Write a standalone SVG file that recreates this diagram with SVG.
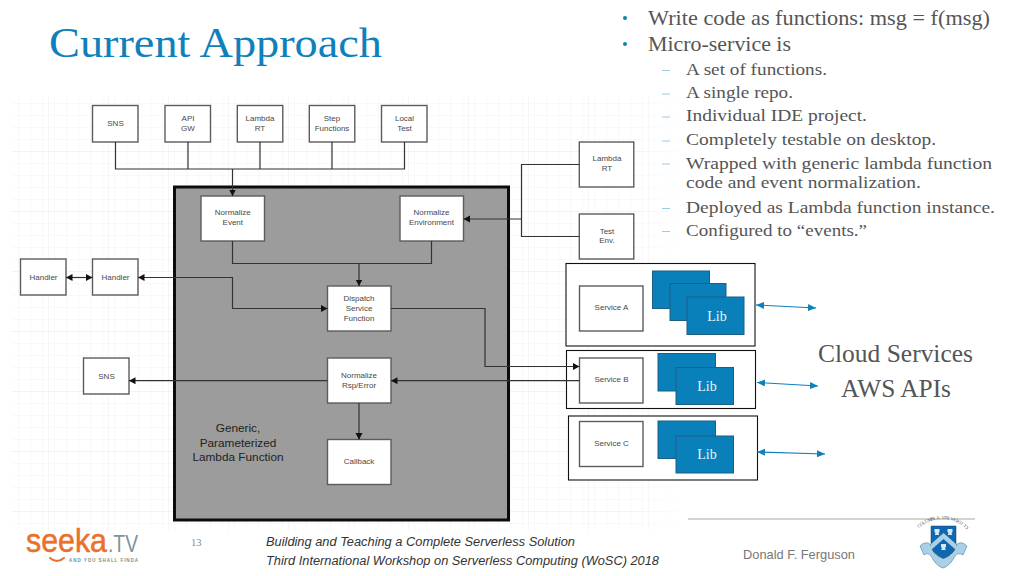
<svg xmlns="http://www.w3.org/2000/svg" width="1024" height="576" viewBox="0 0 1024 576">
<defs>
<pattern id="minor" width="12" height="12" patternUnits="userSpaceOnUse" x="6" y="91"><path d="M12 0H0V12" fill="none" stroke="#f1f1f1" stroke-width="0.8"/></pattern>
<pattern id="major" width="60" height="60" patternUnits="userSpaceOnUse" x="48" y="91"><path d="M60 0H0V60" fill="none" stroke="#ebebeb" stroke-width="0.9"/></pattern>
<linearGradient id="fade" x1="0" x2="1" y1="0" y2="0"><stop offset="0" stop-color="#fff" stop-opacity="0"/><stop offset="1" stop-color="#fff"/></linearGradient>
<marker id="ah" markerUnits="userSpaceOnUse" markerWidth="8" markerHeight="8" refX="6.500" refY="3.500" orient="auto-start-reverse"><path d="M0 0L6.500 3.500L0 7Z" fill="#111"/></marker>
<marker id="bh" markerUnits="userSpaceOnUse" markerWidth="9" markerHeight="8" refX="8" refY="3.500" orient="auto-start-reverse"><path d="M0 0L8 3.500L0 7Z" fill="#0f80bb"/></marker>
</defs>
<style>
.sans{font-family:"Liberation Sans",Arial,sans-serif}
.serif{font-family:"Liberation Serif","Times New Roman",serif}
.box{fill:#fff;stroke:#5c5c5c;stroke-width:1.4}
.lab{font-family:"Liberation Sans",Arial,sans-serif;font-size:8px;fill:#484848;text-anchor:middle}
.wire{fill:none;stroke:#333;stroke-width:1.2}
.arrow{marker-end:url(#ah)}
.both{marker-start:url(#ah);marker-end:url(#ah)}
.blue{fill:none;stroke:#0f80bb;stroke-width:1.1;marker-start:url(#bh);marker-end:url(#bh)}
.outer{fill:#fff;stroke:#111;stroke-width:1.1}
.lib{fill:#0a80bb;stroke:#1d5f82;stroke-width:1}
.libt{font-family:"Liberation Serif","Times New Roman",serif;font-size:14px;fill:#e8f4fa;text-anchor:middle}
.b1{font-family:"Liberation Serif","Times New Roman",serif;font-size:21px;fill:#555}
.b2{font-family:"Liberation Serif","Times New Roman",serif;font-size:17.500px;fill:#555}
.dash{stroke:#9ccbe4;stroke-width:1.2}
.foot{font-family:"Liberation Sans",Arial,sans-serif;font-style:italic;font-size:12.500px;fill:#333}
.gen{font-family:"Liberation Sans",Arial,sans-serif;font-size:11.800px;fill:#222;text-anchor:middle}
.cl{font-family:"Liberation Serif","Times New Roman",serif;font-size:24.500px;fill:#555}
</style>
<rect width="1024" height="576" fill="#fff"/>
<g id="grid">
<rect x="12" y="96" width="678" height="434" fill="url(#minor)"/>
<rect x="12" y="96" width="678" height="434" fill="url(#major)"/>
<rect x="630" y="95" width="61" height="436" fill="url(#fade)"/>
</g>
<text id="title" class="serif" x="49" y="57" font-size="43" fill="#0f80bb" textLength="333" lengthAdjust="spacingAndGlyphs">Current Approach</text>
<g id="bullets">
<circle cx="625" cy="18" r="2" fill="#0f80bb"/><circle cx="625" cy="44" r="2" fill="#0f80bb"/>
<text class="b1" x="648" y="25" textLength="342" lengthAdjust="spacingAndGlyphs">Write code as functions: msg = f(msg)</text>
<text class="b1" x="648" y="51" textLength="143" lengthAdjust="spacingAndGlyphs">Micro-service is</text>
<path class="dash" d="M662 70.500h8M662 94h8M662 117h8M662 141h8M662 164h8M662 208.500h8M662 231.500h8"/>
<text class="b2" x="686" y="75" textLength="141" lengthAdjust="spacingAndGlyphs">A set of functions.</text>
<text class="b2" x="686" y="98" textLength="107" lengthAdjust="spacingAndGlyphs">A single repo.</text>
<text class="b2" x="686" y="121" textLength="181" lengthAdjust="spacingAndGlyphs">Individual IDE project.</text>
<text class="b2" x="686" y="145" textLength="250" lengthAdjust="spacingAndGlyphs">Completely testable on desktop.</text>
<text class="b2" x="686" y="169" textLength="306" lengthAdjust="spacingAndGlyphs">Wrapped with generic lambda function</text>
<text class="b2" x="686" y="188" textLength="235" lengthAdjust="spacingAndGlyphs">code and event normalization.</text>
<text class="b2" x="686" y="213" textLength="309" lengthAdjust="spacingAndGlyphs">Deployed as Lambda function instance.</text>
<text class="b2" x="686" y="236" textLength="181" lengthAdjust="spacingAndGlyphs">Configured to “events.”</text>
</g>
<g id="lambda-function">
<rect x="174.500" y="187" width="334" height="333" fill="#9c9c9c" stroke="#0c0c0c" stroke-width="3"/>
<text class="gen" x="238" y="432">Generic,</text>
<text class="gen" x="238" y="446.500">Parameterized</text>
<text class="gen" x="238" y="461">Lambda Function</text>
</g>
<g id="src-sns"><rect class="box" x="92.500" y="105.500" width="45.500" height="36.500"/><text class="lab" x="115.500" y="126">SNS</text></g>
<g id="src-apigw"><rect class="box" x="165" y="105.500" width="45.500" height="36.500"/><text class="lab" x="188" y="121">API</text><text class="lab" x="188" y="131">GW</text></g>
<g id="src-lambda"><rect class="box" x="237.300" y="105.500" width="45.500" height="36.500"/><text class="lab" x="260" y="121">Lambda</text><text class="lab" x="260" y="131">RT</text></g>
<g id="src-step"><rect class="box" x="309.300" y="105.500" width="45.500" height="36.500"/><text class="lab" x="332" y="121">Step</text><text class="lab" x="332" y="131">Functions</text></g>
<g id="src-local"><rect class="box" x="381.500" y="105.500" width="45.500" height="36.500"/><text class="lab" x="404.500" y="121">Local</text><text class="lab" x="404.500" y="131">Test</text></g>
<g id="norm-event"><rect class="box" x="201" y="196" width="63.500" height="45"/><text class="lab" x="232.800" y="215.300">Normalize</text><text class="lab" x="232.800" y="225">Event</text></g>
<g id="norm-env"><rect class="box" x="400" y="196" width="63.500" height="45"/><text class="lab" x="431.500" y="215.300">Normalize</text><text class="lab" x="431.500" y="225">Environment</text></g>
<g id="dispatch"><rect class="box" x="327.500" y="286" width="63.500" height="45"/><text class="lab" x="359" y="300.700">Dispatch</text><text class="lab" x="359" y="310.600">Service</text><text class="lab" x="359" y="320.500">Function</text></g>
<g id="norm-rsp"><rect class="box" x="327.500" y="358" width="63.500" height="45"/><text class="lab" x="359" y="377.500">Normalize</text><text class="lab" x="359" y="387.500">Rsp/Error</text></g>
<g id="callback"><rect class="box" x="327.500" y="439.500" width="63.500" height="45"/><text class="lab" x="359" y="464">Callback</text></g>
<g id="handler-1"><rect class="box" x="20.500" y="259" width="45.500" height="36"/><text class="lab" x="43.500" y="279.500">Handler</text></g>
<g id="handler-2"><rect class="box" x="92.500" y="259" width="45.500" height="36"/><text class="lab" x="115.500" y="279.500">Handler</text></g>
<g id="sns-out"><rect class="box" x="83.500" y="358" width="45.500" height="36"/><text class="lab" x="106.500" y="378.500">SNS</text></g>
<g id="lambda-rt"><rect class="box" x="579.300" y="142" width="54.500" height="45"/><text class="lab" x="607" y="161">Lambda</text><text class="lab" x="607" y="171">RT</text></g>
<g id="test-env"><rect class="box" x="579.300" y="214" width="54.500" height="45"/><text class="lab" x="607" y="233.500">Test</text><text class="lab" x="607" y="243">Env.</text></g>
<g id="service-a">
<rect class="outer" x="566" y="263.500" width="189" height="82.500"/>
<rect class="box" x="579.500" y="286" width="63.500" height="45"/><text class="lab" x="611.500" y="310">Service A</text>
<rect class="lib" x="652.500" y="271" width="57" height="37.500"/>
<rect class="lib" x="670" y="283.500" width="56" height="37"/><text class="libt" x="698" y="307">Lib</text>
<rect class="lib" x="687" y="297" width="57" height="37.500"/><text class="libt" x="717" y="321">Lib</text>
</g>
<g id="service-b">
<rect class="outer" x="566.500" y="350.500" width="189" height="58"/>
<rect class="box" x="579.500" y="358" width="63.500" height="45"/><text class="lab" x="611.500" y="382">Service B</text>
<rect class="lib" x="658" y="353.500" width="57.500" height="37.500"/><text class="libt" x="687" y="377">Lib</text>
<rect class="lib" x="676" y="367.500" width="57.500" height="37"/><text class="libt" x="707" y="391">Lib</text>
</g>
<g id="service-c">
<rect class="outer" x="568.500" y="416" width="189" height="64"/>
<rect class="box" x="579.500" y="421.500" width="63.500" height="45"/><text class="lab" x="611.500" y="445.500">Service C</text>
<rect class="lib" x="658" y="421" width="57.500" height="37.500"/><text class="libt" x="687" y="446">Lib</text>
<rect class="lib" x="676" y="436" width="57.500" height="37"/><text class="libt" x="707" y="459">Lib</text>
</g>
<g id="connectors">
<path class="wire" d="M115.500 142V169H404.500V142M188 142V169M260 142V169M332 142V169"/>
<path class="wire arrow" d="M232.500 169V196"/>
<path class="wire" d="M232.500 241V263.500H431.500V241"/>
<path class="wire arrow" d="M359 263.500V286"/>
<path class="wire both" d="M66 277.500H92.500"/>
<path class="wire both" d="M138 277.500H232.500V308.500H327.500"/>
<path class="wire arrow" d="M391 308.500H485V366.500H579.500"/>
<path class="wire arrow" d="M579.500 380.700H391"/>
<path class="wire arrow" d="M327.500 380.700H129"/>
<path class="wire arrow" d="M359 403V439.500"/>
<path class="wire" d="M579.300 164.500H521.500V236.500H579.300"/>
<path class="wire arrow" d="M521.500 219H463.500"/>
<path class="blue" d="M756 305L816 308"/>
<path class="blue" d="M757 382.500L818 386"/>
<path class="blue" d="M757 452L825 454"/>
</g>
<g id="cloud-label">
<text class="cl" x="818" y="362" textLength="155" lengthAdjust="spacingAndGlyphs">Cloud Services</text>
<text class="cl" x="841" y="397" textLength="110" lengthAdjust="spacingAndGlyphs">AWS APIs</text>
</g>
<g id="footer">
<path d="M688 519H975" stroke="#a6a6a6" stroke-width="1"/>
<text class="serif" x="191" y="546" font-size="10.500" fill="#888">13</text>
<text class="foot" x="266" y="546" textLength="309" lengthAdjust="spacingAndGlyphs">Building and Teaching a Complete Serverless Solution</text>
<text class="foot" x="266" y="565" textLength="393" lengthAdjust="spacingAndGlyphs">Third International Workshop on Serverless Computing (WoSC) 2018</text>
<text class="sans" x="743" y="559" font-size="13" fill="#777" textLength="112" lengthAdjust="spacingAndGlyphs">Donald F. Ferguson</text>
</g>
<g id="seeka-logo">
<text class="sans" x="26" y="552" font-size="33" fill="#ec6f2a" stroke="#ec6f2a" stroke-width="0.500" textLength="81" lengthAdjust="spacingAndGlyphs">seeka</text>
<text class="sans" x="108" y="552" font-size="24" fill="#7d9599" textLength="30" lengthAdjust="spacingAndGlyphs">.TV</text>
<path d="M50 558Q57 564 64 558" fill="none" stroke="#ec6f2a" stroke-width="2" stroke-linecap="round"/>
<text class="sans" x="69" y="561.500" font-size="4.500" font-weight="bold" fill="#7d8b8e" textLength="69" lengthAdjust="spacing">AND YOU SHALL FINDA</text>
</g>
<g id="columbia-crest">
<text class="serif" font-size="4.600" fill="#555" x="919 921.100 923.400 925.800 928.400 931 933.700 936.400 939.200 942 944.800 947.600 950.300 953 955.600 958.200 960.600 962.900 965" y="528 526.200 524.500 523.100 521.900 520.800 520 519.500 519.100 519 519.100 519.500 520 520.800 521.900 523.100 524.500 526.200 528" rotate="-42.600 -37.900 -33.100 -28.400 -23.700 -18.900 -14.200 -9.500 -4.700 0 4.700 9.500 14.200 18.900 23.700 28.400 33.100 37.900 42.600">COLUMBIA UNIVERSITY</text>
<path d="M920 546Q926 540 931 545L934 553Q943 563 952 553L956 545Q961 540 967 546L963 555Q958 552 955 556Q950 566 943 568Q936 566 931 556Q928 552 924 555Z" fill="#a9d0e4" stroke="#5d8fa8" stroke-width="0.700"/>
<path d="M931 526H956V545Q956 553 943.500 558.500Q931 553 931 545Z" fill="#0f67b0" stroke="#1c3f6e" stroke-width="0.500"/>
<path d="M931 544L943.500 533L956 544V550L943.500 539L931 550Z" fill="#a9d0e4"/>
<path d="M934.500 529h5v3l-1 1l.8 2h-4.600l.8-2l-1-1zM947.500 529h5v3l-1 1l.8 2h-4.600l.8-2l-1-1zM941 544h5v3l-1 1l.8 2h-4.600l.8-2l-1-1z" fill="#d7e8f2"/>
</g>
</svg>
